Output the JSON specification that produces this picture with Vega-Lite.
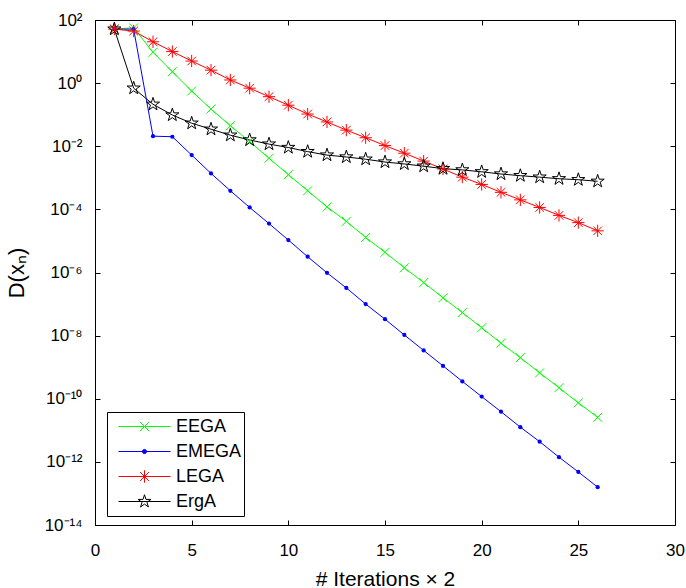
{
  "$schema": "https://vega.github.io/schema/vega-lite/v6.json",
  "width": 580,
  "height": 505,
  "autosize": {"type": "none"},
  "padding": {"left": 95, "top": 20, "right": 11, "bottom": 63},
  "background": "white",
  "config": {
    "font": "Liberation Sans",
    "view": {"stroke": "black", "strokeWidth": 1},
    "axis": {
      "labelFont": "Liberation Sans",
      "labelFontSize": 17,
      "labelColor": "black",
      "titleFont": "Liberation Sans",
      "titleFontSize": 21,
      "titleFontWeight": "normal",
      "titleColor": "black",
      "tickColor": "black",
      "tickWidth": 1,
      "tickSize": -5,
      "domain": false,
      "grid": false
    }
  },
  "data": {
    "values": [
      {"s": "EEGA", "x": 1, "v": 52.5}, {"s": "EEGA", "x": 2, "v": 56.2}, {"s": "EEGA", "x": 3, "v": 9.55}, {"s": "EEGA", "x": 4, "v": 2.29},
      {"s": "EEGA", "x": 5, "v": 0.562}, {"s": "EEGA", "x": 6, "v": 0.151}, {"s": "EEGA", "x": 7, "v": 0.0447}, {"s": "EEGA", "x": 8, "v": 0.0141},
      {"s": "EEGA", "x": 9, "v": 0.00417}, {"s": "EEGA", "x": 10, "v": 0.00126}, {"s": "EEGA", "x": 11, "v": 3.89e-4}, {"s": "EEGA", "x": 12, "v": 1.2e-4},
      {"s": "EEGA", "x": 13, "v": 4.17e-5}, {"s": "EEGA", "x": 14, "v": 1.29e-5}, {"s": "EEGA", "x": 15, "v": 4.37e-6}, {"s": "EEGA", "x": 16, "v": 1.41e-6},
      {"s": "EEGA", "x": 17, "v": 4.79e-7}, {"s": "EEGA", "x": 18, "v": 1.58e-7}, {"s": "EEGA", "x": 19, "v": 5.37e-8}, {"s": "EEGA", "x": 20, "v": 1.78e-8},
      {"s": "EEGA", "x": 21, "v": 5.75e-9}, {"s": "EEGA", "x": 22, "v": 2.0e-9}, {"s": "EEGA", "x": 23, "v": 6.61e-10}, {"s": "EEGA", "x": 24, "v": 2.24e-10},
      {"s": "EEGA", "x": 25, "v": 7.41e-11}, {"s": "EEGA", "x": 26, "v": 2.57e-11},
      {"s": "EMEGA", "x": 1, "v": 51.3}, {"s": "EMEGA", "x": 2, "v": 51.3}, {"s": "EMEGA", "x": 3, "v": 0.0209}, {"s": "EMEGA", "x": 4, "v": 0.02},
      {"s": "EMEGA", "x": 5, "v": 0.00525}, {"s": "EMEGA", "x": 6, "v": 0.00138}, {"s": "EMEGA", "x": 7, "v": 3.89e-4}, {"s": "EMEGA", "x": 8, "v": 1.15e-4},
      {"s": "EMEGA", "x": 9, "v": 3.55e-5}, {"s": "EMEGA", "x": 10, "v": 1.07e-5}, {"s": "EMEGA", "x": 11, "v": 3.16e-6}, {"s": "EMEGA", "x": 12, "v": 9.77e-7},
      {"s": "EMEGA", "x": 13, "v": 3.24e-7}, {"s": "EMEGA", "x": 14, "v": 1.0e-7}, {"s": "EMEGA", "x": 15, "v": 3.31e-8}, {"s": "EMEGA", "x": 16, "v": 1.05e-8},
      {"s": "EMEGA", "x": 17, "v": 3.39e-9}, {"s": "EMEGA", "x": 18, "v": 1.1e-9}, {"s": "EMEGA", "x": 19, "v": 3.55e-10}, {"s": "EMEGA", "x": 20, "v": 1.17e-10},
      {"s": "EMEGA", "x": 21, "v": 3.89e-11}, {"s": "EMEGA", "x": 22, "v": 1.26e-11}, {"s": "EMEGA", "x": 23, "v": 4.37e-12}, {"s": "EMEGA", "x": 24, "v": 1.41e-12},
      {"s": "EMEGA", "x": 25, "v": 4.79e-13}, {"s": "EMEGA", "x": 26, "v": 1.58e-13},
      {"s": "LEGA", "x": 1, "v": 51.3}, {"s": "LEGA", "x": 2, "v": 44.7}, {"s": "LEGA", "x": 3, "v": 20.4}, {"s": "LEGA", "x": 4, "v": 10.0},
      {"s": "LEGA", "x": 5, "v": 5.01}, {"s": "LEGA", "x": 6, "v": 2.57}, {"s": "LEGA", "x": 7, "v": 1.26}, {"s": "LEGA", "x": 8, "v": 0.692},
      {"s": "LEGA", "x": 9, "v": 0.372}, {"s": "LEGA", "x": 10, "v": 0.2}, {"s": "LEGA", "x": 11, "v": 0.105}, {"s": "LEGA", "x": 12, "v": 0.0589},
      {"s": "LEGA", "x": 13, "v": 0.0324}, {"s": "LEGA", "x": 14, "v": 0.0186}, {"s": "LEGA", "x": 15, "v": 0.0105}, {"s": "LEGA", "x": 16, "v": 0.00603},
      {"s": "LEGA", "x": 17, "v": 0.00339}, {"s": "LEGA", "x": 18, "v": 0.00191}, {"s": "LEGA", "x": 19, "v": 0.00105}, {"s": "LEGA", "x": 20, "v": 6.17e-4},
      {"s": "LEGA", "x": 21, "v": 3.47e-4}, {"s": "LEGA", "x": 22, "v": 2.0e-4}, {"s": "LEGA", "x": 23, "v": 1.15e-4}, {"s": "LEGA", "x": 24, "v": 6.46e-5},
      {"s": "LEGA", "x": 25, "v": 3.8e-5}, {"s": "LEGA", "x": 26, "v": 2.09e-5},
      {"s": "ErgA", "x": 1, "v": 51.3}, {"s": "ErgA", "x": 2, "v": 0.692}, {"s": "ErgA", "x": 3, "v": 0.214}, {"s": "ErgA", "x": 4, "v": 0.0977},
      {"s": "ErgA", "x": 5, "v": 0.0537}, {"s": "ErgA", "x": 6, "v": 0.0347}, {"s": "ErgA", "x": 7, "v": 0.0224}, {"s": "ErgA", "x": 8, "v": 0.0158},
      {"s": "ErgA", "x": 9, "v": 0.0117}, {"s": "ErgA", "x": 10, "v": 0.00912}, {"s": "ErgA", "x": 11, "v": 0.00676}, {"s": "ErgA", "x": 12, "v": 0.00525},
      {"s": "ErgA", "x": 13, "v": 0.00457}, {"s": "ErgA", "x": 14, "v": 0.00389}, {"s": "ErgA", "x": 15, "v": 0.00316}, {"s": "ErgA", "x": 16, "v": 0.00275},
      {"s": "ErgA", "x": 17, "v": 0.00234}, {"s": "ErgA", "x": 18, "v": 0.00195}, {"s": "ErgA", "x": 19, "v": 0.00178}, {"s": "ErgA", "x": 20, "v": 0.00155},
      {"s": "ErgA", "x": 21, "v": 0.00132}, {"s": "ErgA", "x": 22, "v": 0.00117}, {"s": "ErgA", "x": 23, "v": 0.00105}, {"s": "ErgA", "x": 24, "v": 9.33e-4},
      {"s": "ErgA", "x": 25, "v": 8.71e-4}, {"s": "ErgA", "x": 26, "v": 7.76e-4}
    ]
  },
  "layer": [
    {
      "mark": {"type": "line", "strokeWidth": 1},
      "encoding": {
        "x": {
          "field": "x", "type": "quantitative",
          "scale": {"domain": [0, 30], "nice": false, "zero": false},
          "axis": {"orient": "bottom", "values": [0, 5, 10, 15, 20, 25, 30], "title": "# Iterations × 2", "labelPadding": 22, "titlePadding": 10, "labelFlush": false}
        },
        "y": {
          "field": "v", "type": "quantitative",
          "scale": {"type": "log", "domain": [1e-14, 100], "nice": false},
          "axis": {
            "orient": "left",
            "values": [1e-14, 1e-12, 1e-10, 1e-8, 1e-6, 1e-4, 1e-2, 1, 100],
            "labelExpr": "'10' + ['⁻¹⁴','⁻¹²','⁻¹⁰','⁻⁸','⁻⁶','⁻⁴','⁻²','⁰','²'][round(log(datum.value)/LN10/2)+7]",
            "title": "D(xₙ)",
            "titleFontSize": 22,
            "labelPadding": 18,
            "titlePadding": 16,
            "labelFlush": false
          }
        },
        "color": {
          "field": "s", "type": "nominal",
          "scale": {"domain": ["EEGA", "EMEGA", "LEGA", "ErgA"], "range": ["#00ff00", "#0000ff", "#ff0000", "#000000"]},
          "legend": {
            "orient": "none",
            "legendX": 12,
            "legendY": 392,
            "title": null,
            "strokeColor": "black",
            "fillColor": "white",
            "padding": 2,
            "symbolSize": 2704,
            "clipHeight": 25,
            "rowPadding": 0,
            "symbolOffset": 9,
            "labelOffset": 5,
            "labelFont": "Liberation Sans",
            "labelFontSize": 18,
            "labelColor": "black",
            "symbolStrokeWidth": 1,
            "encode": {
              "symbols": {
                "update": {
                  "shape": {"signal": "datum.value === 'EEGA' ? 'M-1,0H1M-0.18,-0.18L0.18,0.18M-0.18,0.18L0.18,-0.18' : datum.value === 'EMEGA' ? 'M-1,0H1M0.08,0A0.08,0.08,0,1,1,-0.08,0A0.08,0.08,0,1,1,0.08,0Z' : datum.value === 'LEGA' ? 'M-1,0H1M0,-0.24V0.24M-0.17,-0.17L0.17,0.17M-0.17,0.17L0.17,-0.17' : 'M-1,0H1M0,-0.26L0.058,-0.08L0.248,-0.08L0.094,0.03L0.152,0.21L0,0.1L-0.152,0.21L-0.094,0.03L-0.248,-0.08L-0.058,-0.08Z'"},
                  "fill": {"signal": "datum.value === 'EMEGA' ? '#0000ff' : 'transparent'"},
                  "stroke": {"scale": "color", "field": "value"},
                  "strokeWidth": {"value": 1},
                  "opacity": {"value": 1}
                }
              }
            }
          }
        }
      }
    },
    {
      "transform": [{"filter": "datum.s === 'EEGA'"}],
      "mark": {"type": "point", "shape": "M-1,-1L1,1M-1,1L1,-1", "size": 81, "filled": false, "stroke": "#00ff00", "strokeWidth": 1, "opacity": 1},
      "encoding": {
        "x": {"field": "x", "type": "quantitative", "axis": {"orient": "top", "values": [0, 5, 10, 15, 20, 25, 30], "labels": false, "title": null}},
        "y": {"field": "v", "type": "quantitative", "axis": {"orient": "right", "values": [1e-14, 1e-12, 1e-10, 1e-8, 1e-6, 1e-4, 1e-2, 1, 100], "labels": false, "title": null}}
      }
    },
    {
      "transform": [{"filter": "datum.s === 'EMEGA'"}],
      "mark": {"type": "point", "shape": "circle", "size": 18, "filled": true, "fill": "#0000ff", "strokeWidth": 0, "opacity": 1},
      "encoding": {
        "x": {"field": "x", "type": "quantitative", "axis": null},
        "y": {"field": "v", "type": "quantitative", "axis": null}
      }
    },
    {
      "transform": [{"filter": "datum.s === 'LEGA'"}],
      "mark": {"type": "point", "shape": "M0,-1V1M-1,0H1M-0.7,-0.7L0.7,0.7M-0.7,0.7L0.7,-0.7", "size": 150, "filled": false, "stroke": "#ff0000", "strokeWidth": 1, "opacity": 1},
      "encoding": {
        "x": {"field": "x", "type": "quantitative", "axis": null},
        "y": {"field": "v", "type": "quantitative", "axis": null}
      }
    },
    {
      "transform": [{"filter": "datum.s === 'ErgA'"}],
      "mark": {"type": "point", "shape": "M0,-1L0.224,-0.31L0.952,-0.31L0.364,0.118L0.588,0.81L0,0.382L-0.588,0.81L-0.364,0.118L-0.952,-0.31L-0.224,-0.31Z", "size": 190, "filled": false, "stroke": "#000000", "strokeWidth": 1, "opacity": 1},
      "encoding": {
        "x": {"field": "x", "type": "quantitative", "axis": null},
        "y": {"field": "v", "type": "quantitative", "axis": null}
      }
    }
  ],
  "resolve": {"axis": {"x": "independent", "y": "independent"}}
}
